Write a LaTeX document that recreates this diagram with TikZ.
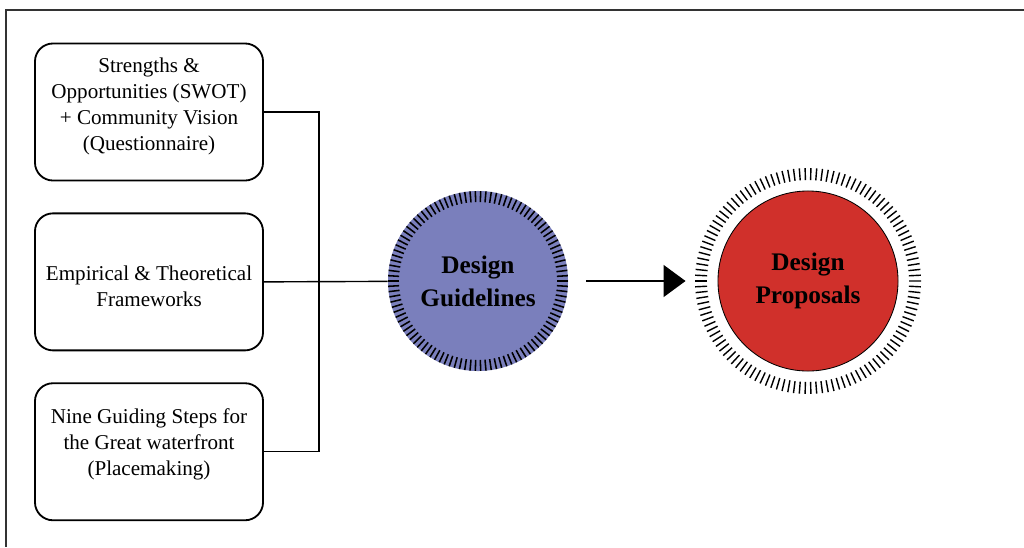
\documentclass[tikz,border=0pt]{standalone}
\usepackage{fontspec}
\setmainfont{Liberation Serif}
\usepackage{tikz}
\usetikzlibrary{arrows.meta, positioning, calc}
\definecolor{GuideBlue}{HTML}{7A7FBC}
\definecolor{PropRed}{HTML}{D0302B}
\definecolor{FrameGrey}{HTML}{333333}
\newcommand{\boxtext}[2]{\raisebox{#1}[\height][\depth]{\parbox{5.45cm}{\centering #2}}}

\begin{document}
\begin{tikzpicture}[x=0.025cm, y=0.025cm, node distance=0.775cm, >=Triangle]
    \tikzstyle{source} = [rectangle, draw=black, line width=1.3pt, rounded corners=0.45cm, minimum width=5.7cm, minimum height=3.425cm, inner sep=2pt, align=center, font=\fontsize{15}{18.5}\selectfont]
    \tikzstyle{hub} = [circle, inner sep=0pt, align=center, font=\fontsize{18}{23.5}\selectfont\bfseries]
    \tikzstyle{tick} = [line width=1.1pt, black]
    \tikzstyle{link} = [draw, line width=1pt, black]

    \useasboundingbox (0,0) rectangle (1024,-547);
    \draw[FrameGrey, line width=1pt] (1024,-10) -| (6,-547);

    \node [source] (swot) at (149,-112) {\boxtext{4pt}{Strengths \&\\Opportunities (SWOT)\\+ Community Vision\\(Questionnaire)}};
    \node [source, below=of swot] (frame) {\boxtext{-3pt}{Empirical \& Theoretical\\Frameworks}};
    \node [source, below=of frame] (steps) {\boxtext{5pt}{Nine Guiding Steps for\\the Great waterfront\\(Placemaking)}};

    \node [hub, fill=GuideBlue, minimum size=4.5cm] (guide) at (478,-281) {Design\\Guidelines};
    \node [hub, fill=PropRed, draw=black, line width=0.6pt, minimum size=4.5cm] (prop) at (808,-281) {Design\\Proposals};

    % tick rings
    \foreach \i in {1,...,106}
        \draw [tick] (guide.center) ++(360/106*\i:79) -- ++(360/106*\i:11);
    \foreach \i in {1,...,122}
        \draw [tick, line width=1pt] (prop.center) ++(360/122*\i:101) -- ++(360/122*\i:12);

    \coordinate (join) at (319,-281);
    \path [link] (swot.east) -| (join);
    \path [link] (steps.east) -| (join);
    \path [link] (frame.east) -- (guide);
    \path [link, -{Triangle[length=0.55cm, width=0.8cm]}, shorten <=0.45cm, shorten >=0.8cm] (guide) -- (prop);
\end{tikzpicture}
\end{document}
